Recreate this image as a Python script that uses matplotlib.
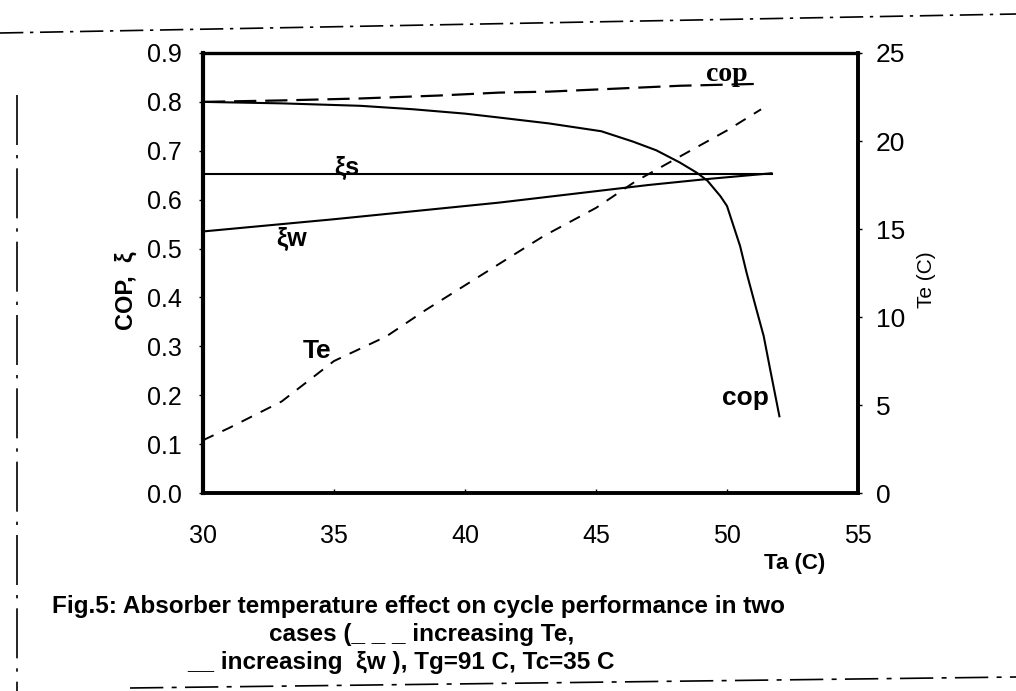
import matplotlib
matplotlib.use("Agg")
import matplotlib.pyplot as plt
from matplotlib.lines import Line2D

plt.rcParams['font.family'] = ['Liberation Sans', 'DejaVu Sans']

# absorber temperature Ta (C)
ta_cop_te = [30, 33, 36, 39, 41.3, 43.2, 45.3, 48.2, 51.3]
cop_te = [0.800, 0.803, 0.807, 0.813, 0.819, 0.821, 0.826, 0.833, 0.837]

ta_cop_xw = [30, 33, 36, 38, 40, 41.3, 43.2, 45.2, 46.4, 47.3, 48.2, 48.85,
             49.25, 49.75, 50.0, 50.5, 50.75, 51.1, 51.4, 51.65, 52.0]
cop_xw = [0.800, 0.797, 0.792, 0.785, 0.776, 0.768, 0.756, 0.740, 0.719, 0.701,
          0.676, 0.655, 0.639, 0.607, 0.587, 0.505, 0.450, 0.380, 0.321, 0.252, 0.157]

ta_xs = [30, 40, 51.7]
xi_s = [0.652, 0.652, 0.652]

ta_xw = [30, 35, 41.3, 43.2, 47, 49.2, 51.7]
xi_w = [0.535, 0.560, 0.594, 0.606, 0.630, 0.642, 0.654]

ta_te = [30, 31, 33, 35, 37, 38.5, 40, 41.5, 43, 45, 46.5, 48.3, 50, 51.3]
te = [3.0, 3.7, 5.2, 7.5, 8.9, 10.4, 11.8, 13.2, 14.6, 16.2, 17.7, 19.2, 20.6, 21.8]

x_ticks = [30, 35, 40, 45, 50, 55]
left_ticks = [0.0, 0.1, 0.2, 0.3, 0.4, 0.5, 0.6, 0.7, 0.8, 0.9]
right_ticks = [0, 5, 10, 15, 20, 25]

fig = plt.figure(figsize=(10.16, 6.91), dpi=100)
ax = fig.add_axes([0.1998, 0.2865, 0.6447, 0.6368])
ax2 = ax.twinx()

ax.plot(ta_cop_te, cop_te, color='black', lw=1.6, dashes=(10, 4))
ax.plot(ta_cop_xw, cop_xw, color='black', lw=1.5)
ax.plot(ta_xs, xi_s, color='black', lw=1.5)
ax.plot(ta_xw, xi_w, color='black', lw=1.5)
ax2.plot(ta_te, te, color='black', lw=1.4, dashes=(6, 5))

ax.set_xlim(30, 55)
ax.set_ylim(0, 0.9)
ax2.set_ylim(0, 25)
ax.set_xticks(x_ticks)
ax.set_yticks(left_ticks)
ax.set_yticklabels([f'{v:.1f}' for v in left_ticks])
ax2.set_yticks(right_ticks)

ax.tick_params(axis='y', direction='out', length=3, width=1, labelsize=18, pad=12)
ax.tick_params(axis='x', direction='in', length=3, width=1, labelsize=18, pad=22)
ax2.tick_params(axis='y', direction='out', length=3, width=1, labelsize=19, pad=10)

ax.spines['left'].set_linewidth(3.0)
ax.spines['bottom'].set_linewidth(2.8)
ax.spines['top'].set_linewidth(2.4)
ax.spines['right'].set_linewidth(2.6)
for side in ('left', 'top', 'bottom'):
    ax2.spines[side].set_visible(False)
ax2.spines['right'].set_linewidth(2.6)

ax.set_ylabel('COP,  ξ', fontsize=17, fontweight='bold')
ax.yaxis.set_label_coords(-0.10, 0.46)
ax2.set_ylabel('Te (C)', fontsize=15)
ax2.yaxis.set_label_coords(1.09, 0.484)

# curve labels
ax.text(50.0, 0.857, 'cop', fontsize=20, fontweight='bold', family='Liberation Serif',
        ha='center', va='center')
ax.text(35.5, 0.665, 'ξs', fontsize=18, fontweight='bold', ha='center', va='center')
ax.text(33.4, 0.52, 'ξw', fontsize=18, fontweight='bold', ha='center', va='center')
ax.text(34.35, 0.29, 'Te', fontsize=19, fontweight='bold', ha='center', va='center')
ax.text(50.7, 0.194, 'cop', fontsize=19, fontweight='bold', ha='center', va='center')

fig.text(795 / 1016, 1 - 563 / 691, 'Ta (C)', fontsize=16, fontweight='bold',
         ha='center', va='center')

# caption
fig.text(52 / 1016, 1 - 606 / 691,
         'Fig.5: Absorber temperature effect on cycle performance in two',
         fontsize=17.5, fontweight='bold', ha='left', va='center')
fig.text(269 / 1016, 1 - 635 / 691, 'cases (_ _ _ increasing Te,',
         fontsize=17.5, fontweight='bold', ha='left', va='center')
fig.text(187 / 1016, 1 - 662 / 691, '__ increasing  ξw ), Tg=91 C, Tc=35 C',
         fontsize=17.5, fontweight='bold', ha='left', va='center')

# page frame around the figure
frame = dict(color='black', lw=1.2, transform=fig.transFigure)
fig.add_artist(Line2D([0.0, 1.0], [1 - 33 / 691, 1 - 14 / 691], dashes=(14, 4, 2, 4), **frame))
fig.add_artist(Line2D([17 / 1016, 17 / 1016], [1 - 95 / 691, 0.0], dashes=(30, 6, 2, 6), **frame))
fig.add_artist(Line2D([130 / 1016, 1.0], [1 - 688 / 691, 1 - 677 / 691], dashes=(20, 5, 3, 5), **frame))

fig.savefig('out.png', dpi=100)
